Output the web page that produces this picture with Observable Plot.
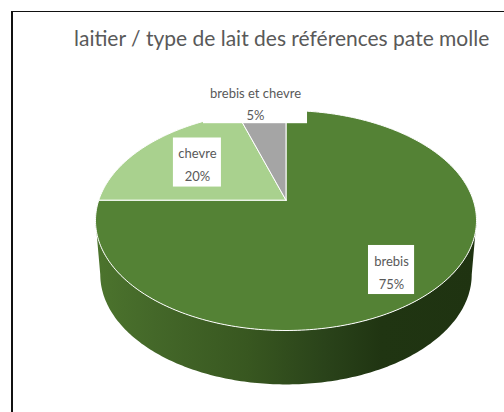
<!DOCTYPE html>
<html>
<head>
<meta charset="utf-8">
<script src="https://cdn.jsdelivr.net/npm/d3@7"></script>
<script src="https://cdn.jsdelivr.net/npm/@observablehq/plot@0.6"></script>
<style>
  html, body { margin: 0; padding: 0; background: #fff; overflow: hidden; }
  #frame { position: absolute; left: 11px; top: 11px; width: 600px; height: 600px;
           border-left: 2px solid #111; border-top: 1.5px solid #111; pointer-events: none; }
  #title { height: 60px; box-sizing: border-box; padding: 25px 0 0 74px; white-space: nowrap;
           font: 400 21px/26px Lato, sans-serif; color: #595959; }
  #chart svg { display: block; }
</style>
</head>
<body>
<div id="frame"></div>
<div id="title">laitier / type de lait des références pate molle</div>
<div id="chart"></div>
<script>
const title = "laitier / type de lait des références pate molle";
const categories = ["brebis", "chevre", "brebis et chevre"];
const shares = [75, 20, 5];
const sliceColors = ["#548235", "#a9d18e", "#a5a5a5"];

// Label boxes in the pie's unit coordinates
const labelU = [0.554, -0.465, -0.16];
const labelV = [-0.45, 0.527, 1.08];
const boxHalfU = [0.121, 0.126, 0.273];
const boxHalfV = [0.223, 0.223, 0.2];

// 3D look: the apex sits above the ellipse centre; the rim is a smaller, lower ellipse
const apexV = 0.185, rimDrop = 0.49, rimScale = 0.975;
const deg = Math.PI / 180;

function rimPoint(theta) {
  const s = Math.sin(theta), c = Math.cos(theta);
  const t = -apexV * c + Math.sqrt(apexV * apexV * c * c + 1 - apexV * apexV);
  return {u: s * t, v: apexV + c * t};
}

const arcs = d3.pie().sort(null).value(d => d)(shares);
const slicePoints = arcs.flatMap((a, i) => {
  const pts = [{slice: categories[i], u: 0, v: apexV}];
  const n = Math.max(2, Math.ceil((a.endAngle - a.startAngle) / deg));
  for (let k = 0; k <= n; ++k) {
    const p = rimPoint(a.startAngle + (a.endAngle - a.startAngle) * k / n);
    pts.push({slice: categories[i], u: p.u, v: p.v});
  }
  pts.push(pts[0]);
  return pts;
});

const sidePoints = [];
for (let d = 180; d <= 360; d += 1)
  sidePoints.push({u: rimScale * Math.cos(d * deg), v: -rimDrop + Math.sin(d * deg)});
for (let d = 360; d >= 180; d -= 1)
  sidePoints.push({u: Math.cos(d * deg), v: Math.sin(d * deg)});

const labels = categories.map((name, i) => ({
  name, text: `${name}\n${shares[i]}%`,
  u: labelU[i], v: labelV[i],
  u1: labelU[i] - boxHalfU[i], u2: labelU[i] + boxHalfU[i],
  v1: labelV[i] - boxHalfV[i], v2: labelV[i] + boxHalfV[i]
}));

const gradient = () => {
  const ns = "http://www.w3.org/2000/svg";
  const defs = document.createElementNS(ns, "defs");
  const g = document.createElementNS(ns, "linearGradient");
  g.setAttribute("id", "rimShade");
  [[0, "#4c742d"], [0.15, "#446829"], [0.4, "#385720"], [0.6, "#2a431a"], [0.75, "#203512"], [1, "#1f3311"]]
    .forEach(([o, c]) => {
      const stop = document.createElementNS(ns, "stop");
      stop.setAttribute("offset", o);
      stop.setAttribute("stop-color", c);
      g.appendChild(stop);
    });
  defs.appendChild(g);
  return defs;
};

const plot = Plot.plot({
  width: 504,
  height: 352,
  marginLeft: 95,
  marginRight: 28,
  marginTop: 50,
  marginBottom: 82,
  x: {domain: [-1, 1], axis: null},
  y: {domain: [-1, 1], axis: null},
  marks: [
    gradient,
    Plot.line(sidePoints, {x: "u", y: "v", fill: "url(#rimShade)", stroke: "none", curve: "linear"}),
    Plot.line(slicePoints, {
      x: "u", y: "v", z: "slice", curve: "linear",
      fill: d => sliceColors[categories.indexOf(d.slice)],
      stroke: "white", strokeWidth: 1, strokeLinejoin: "round"
    }),
    Plot.rect(labels, {x1: "u1", x2: "u2", y1: "v1", y2: "v2", fill: "white"}),
    Plot.text(labels, {
      x: "u", y: "v", text: "text", fill: "#595959",
      fontFamily: "Lato, sans-serif", fontSize: 13, lineHeight: 1.75
    })
  ]
});
plot.style.background = "transparent";
document.getElementById("chart").appendChild(plot);
</script>
</body>
</html>
